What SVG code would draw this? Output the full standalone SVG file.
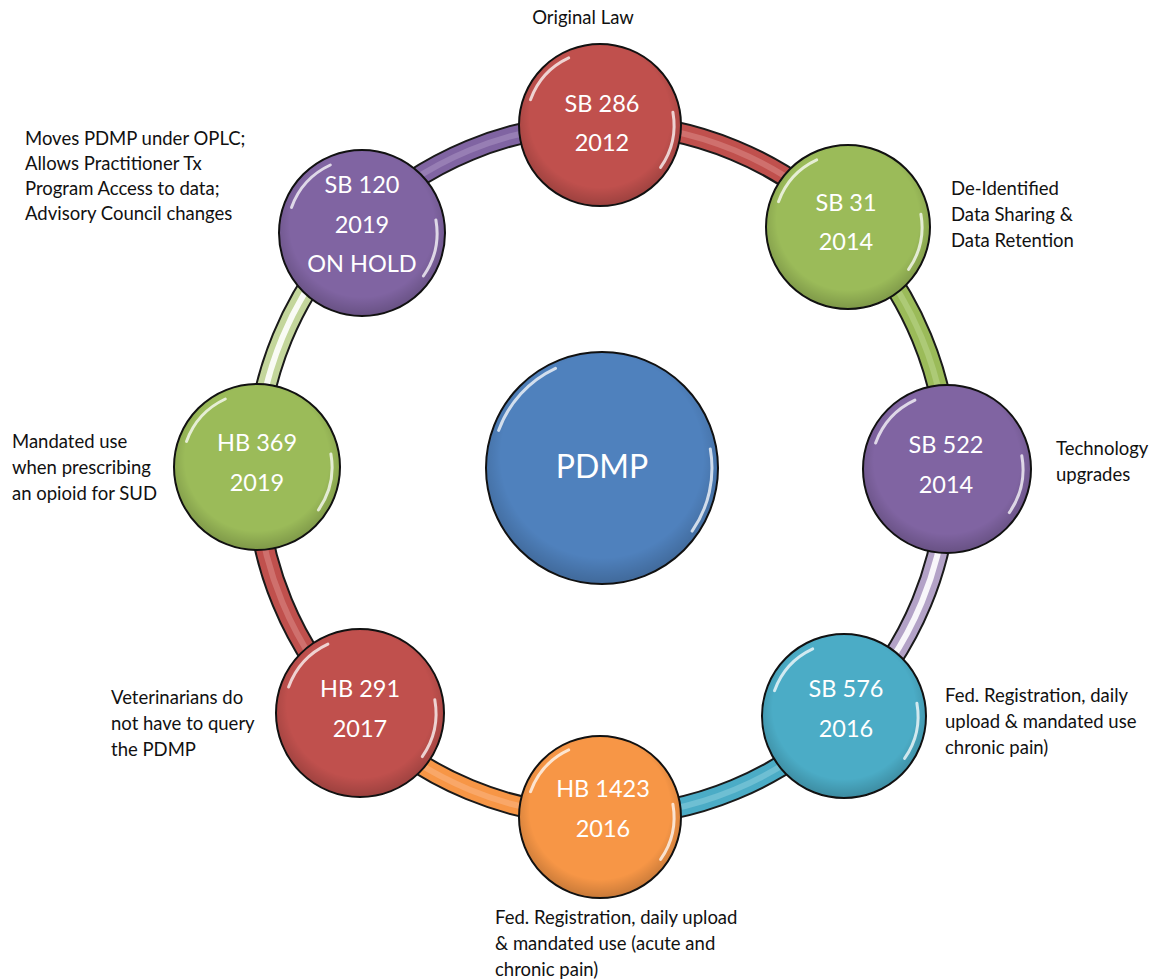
<svg xmlns="http://www.w3.org/2000/svg" width="1169" height="980" viewBox="0 0 1169 980">
<defs>
<radialGradient id="shade" cx="50%" cy="45%" r="55%">
<stop offset="0.8" stop-color="#000" stop-opacity="0"/>
<stop offset="1" stop-color="#000" stop-opacity="0.18"/>
</radialGradient>
</defs>
<style>
.band-o{fill:none;stroke:#1a1a1a;stroke-width:22}
.band{fill:none;stroke-width:18}
.band-h{fill:none;stroke-width:6;stroke-linecap:round}
.node{stroke:#111;stroke-width:2}
.gloss{fill:none;stroke:#fff;stroke-width:3;stroke-linecap:round;opacity:0.75}
.lbl{font-family:Lato,"Open Sans",sans-serif;font-size:23.5px;fill:#fff;text-anchor:middle}
.note{font-family:Lato,"Open Sans",sans-serif;font-size:18.5px;fill:#111}
</style>
<rect width="1169" height="980" fill="#fff"/>
<g id="connectors">
<path class="band-o" d="M602,124 A346,346 0 0 1 846.66,225.34"/>
<path class="band" stroke="#c0504d" d="M602,124 A346,346 0 0 1 846.66,225.34"/>
<path class="band-h" stroke="#d98583" opacity="0.6" d="M602,124 A346,346 0 0 1 846.66,225.34"/>
<path class="band-o" d="M846.66,225.34 A346,346 0 0 1 948,470"/>
<path class="band" stroke="#9bbb59" d="M846.66,225.34 A346,346 0 0 1 948,470"/>
<path class="band-h" stroke="#b9d38a" opacity="0.6" d="M846.66,225.34 A346,346 0 0 1 948,470"/>
<path class="band-o" d="M948,470 A346,346 0 0 1 846.66,714.66"/>
<path class="band" stroke="#b3a2c7" d="M948,470 A346,346 0 0 1 846.66,714.66"/>
<path class="band-h" stroke="#fff" opacity="0.9" d="M948,470 A346,346 0 0 1 846.66,714.66"/>
<path class="band-o" d="M846.66,714.66 A346,346 0 0 1 602,816"/>
<path class="band" stroke="#4bacc6" d="M846.66,714.66 A346,346 0 0 1 602,816"/>
<path class="band-h" stroke="#86cbdc" opacity="0.6" d="M846.66,714.66 A346,346 0 0 1 602,816"/>
<path class="band-o" d="M602,816 A346,346 0 0 1 357.34,714.66"/>
<path class="band" stroke="#f79646" d="M602,816 A346,346 0 0 1 357.34,714.66"/>
<path class="band-h" stroke="#fab27e" opacity="0.6" d="M602,816 A346,346 0 0 1 357.34,714.66"/>
<path class="band-o" d="M357.34,714.66 A346,346 0 0 1 256,470"/>
<path class="band" stroke="#c0504d" d="M357.34,714.66 A346,346 0 0 1 256,470"/>
<path class="band-h" stroke="#d98583" opacity="0.6" d="M357.34,714.66 A346,346 0 0 1 256,470"/>
<path class="band-o" d="M256,470 A346,346 0 0 1 357.34,225.34"/>
<path class="band" stroke="#c3d69b" d="M256,470 A346,346 0 0 1 357.34,225.34"/>
<path class="band-h" stroke="#fff" opacity="0.9" d="M256,470 A346,346 0 0 1 357.34,225.34"/>
<path class="band-o" d="M357.34,225.34 A346,346 0 0 1 602,124"/>
<path class="band" stroke="#8064a2" d="M357.34,225.34 A346,346 0 0 1 602,124"/>
<path class="band-h" stroke="#a690c0" opacity="0.6" d="M357.34,225.34 A346,346 0 0 1 602,124"/>
</g>
<g id="pdmp" transform="translate(602,468)">
<circle class="node" r="116" fill="#4f81bd"/>
<circle r="115" fill="url(#shade)"/>
<path class="gloss" d="M-103.4,-37.6 A110,110 0 0 1 -46.5,-99.7"/>
<path class="gloss" d="M108.3,-19.1 A110,110 0 0 1 90.1,63.1" opacity="0.5"/>
<text class="lbl" style="font-size:32px" x="0" y="10">PDMP</text>
</g>
<g id="sb286" transform="translate(600,125)">
<circle class="node" r="81" fill="#c0504d"/>
<circle r="80" fill="url(#shade)"/>
<path class="gloss" d="M-69.5,-25.3 A74,74 0 0 1 -31.3,-67.1"/>
<path class="gloss" d="M72.9,-12.8 A74,74 0 0 1 60.6,42.4" opacity="0.5"/>
<text class="lbl" x="2" y="-13">SB 286</text>
<text class="lbl" x="2" y="26">2012</text>
</g>
<g id="sb31" transform="translate(848,227)">
<circle class="node" r="82" fill="#9bbb59"/>
<circle r="81" fill="url(#shade)"/>
<path class="gloss" d="M-69.5,-25.3 A74,74 0 0 1 -31.3,-67.1"/>
<path class="gloss" d="M72.9,-12.8 A74,74 0 0 1 60.6,42.4" opacity="0.5"/>
<text class="lbl" x="-2" y="-16">SB 31</text>
<text class="lbl" x="-2" y="23">2014</text>
</g>
<g id="sb522" transform="translate(947,469)">
<circle class="node" r="84" fill="#8064a2"/>
<circle r="83" fill="url(#shade)"/>
<path class="gloss" d="M-71.4,-26.0 A76,76 0 0 1 -32.1,-68.9"/>
<path class="gloss" d="M74.8,-13.2 A76,76 0 0 1 62.3,43.6" opacity="0.5"/>
<text class="lbl" x="-1" y="-16">SB 522</text>
<text class="lbl" x="-1" y="24">2014</text>
</g>
<g id="sb576" transform="translate(844,716)">
<circle class="node" r="82" fill="#4bacc6"/>
<circle r="81" fill="url(#shade)"/>
<path class="gloss" d="M-69.5,-25.3 A74,74 0 0 1 -31.3,-67.1"/>
<path class="gloss" d="M72.9,-12.8 A74,74 0 0 1 60.6,42.4" opacity="0.5"/>
<text class="lbl" x="2" y="-19">SB 576</text>
<text class="lbl" x="2" y="21">2016</text>
</g>
<g id="hb1423" transform="translate(600,817)">
<circle class="node" r="81" fill="#f79646"/>
<circle r="80" fill="url(#shade)"/>
<path class="gloss" d="M-69.5,-25.3 A74,74 0 0 1 -31.3,-67.1"/>
<path class="gloss" d="M72.9,-12.8 A74,74 0 0 1 60.6,42.4" opacity="0.5"/>
<text class="lbl" x="3" y="-20">HB 1423</text>
<text class="lbl" x="3" y="20">2016</text>
</g>
<g id="hb291" transform="translate(360,713)">
<circle class="node" r="84" fill="#c0504d"/>
<circle r="83" fill="url(#shade)"/>
<path class="gloss" d="M-71.4,-26.0 A76,76 0 0 1 -32.1,-68.9"/>
<path class="gloss" d="M74.8,-13.2 A76,76 0 0 1 62.3,43.6" opacity="0.5"/>
<text class="lbl" x="0" y="-16">HB 291</text>
<text class="lbl" x="0" y="24">2017</text>
</g>
<g id="hb369" transform="translate(257,467)">
<circle class="node" r="83" fill="#9bbb59"/>
<circle r="82" fill="url(#shade)"/>
<path class="gloss" d="M-70.5,-25.6 A75,75 0 0 1 -31.7,-68.0"/>
<path class="gloss" d="M73.9,-13.0 A75,75 0 0 1 61.4,43.0" opacity="0.5"/>
<text class="lbl" x="0" y="-16">HB 369</text>
<text class="lbl" x="0" y="24">2019</text>
</g>
<g id="sb120" transform="translate(362,233)">
<circle class="node" r="83" fill="#8064a2"/>
<circle r="82" fill="url(#shade)"/>
<path class="gloss" d="M-70.5,-25.6 A75,75 0 0 1 -31.7,-68.0"/>
<path class="gloss" d="M73.9,-13.0 A75,75 0 0 1 61.4,43.0" opacity="0.5"/>
<text class="lbl" x="0" y="-40">SB 120</text>
<text class="lbl" x="0" y="0">2019</text>
<text class="lbl" x="0" y="39">ON HOLD</text>
</g>
<g id="notes">
<text class="note" x="583" y="24" text-anchor="middle">Original Law</text>
<text class="note" x="25"><tspan x="25" y="145">Moves PDMP under OPLC;</tspan><tspan x="25" y="170">Allows Practitioner Tx</tspan><tspan x="25" y="195">Program Access to data;</tspan><tspan x="25" y="220">Advisory Council changes</tspan></text>
<text class="note"><tspan x="951" y="195">De-Identified</tspan><tspan x="951" y="221">Data Sharing &amp;</tspan><tspan x="951" y="247">Data Retention</tspan></text>
<text class="note"><tspan x="1056" y="455">Technology</tspan><tspan x="1056" y="481">upgrades</tspan></text>
<text class="note"><tspan x="945" y="702">Fed. Registration, daily</tspan><tspan x="945" y="728">upload &amp; mandated use</tspan><tspan x="945" y="754">chronic pain)</tspan></text>
<text class="note"><tspan x="495" y="924">Fed. Registration, daily upload</tspan><tspan x="495" y="950">&amp; mandated use (acute and</tspan><tspan x="495" y="976">chronic pain)</tspan></text>
<text class="note"><tspan x="111" y="704">Veterinarians do</tspan><tspan x="111" y="730">not have to query</tspan><tspan x="111" y="756">the PDMP</tspan></text>
<text class="note"><tspan x="12" y="448">Mandated use</tspan><tspan x="12" y="474">when prescribing</tspan><tspan x="12" y="500">an opioid for SUD</tspan></text>
</g>
</svg>
